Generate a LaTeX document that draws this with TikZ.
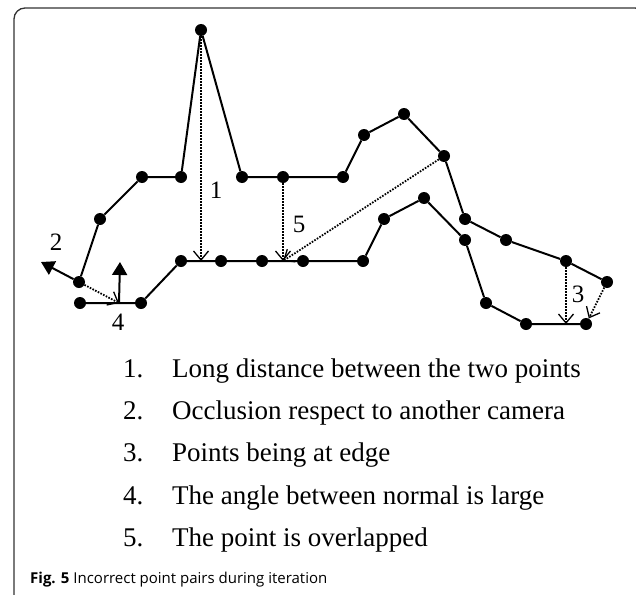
\documentclass[tikz,border=0pt]{standalone}
\usepackage{fontspec}
\setmainfont{Liberation Serif}
\newfontfamily\capfont{Open Sans}
\usetikzlibrary{arrows.meta}

\tikzset{
  pt/.style={circle, fill=black, inner sep=0pt, minimum size=12pt},
  contour/.style={line width=2pt},
  pairline/.style={line width=1.8pt, dash pattern=on 1.6pt off 1.4pt, -{Straight Barb[length=9pt, width=15pt, line width=1.3pt]}},
  normalarrow/.style={line width=2pt, -{Triangle[length=13pt, width=15pt]}},
  lbl/.style={font=\fontsize{25}{27}\selectfont, inner sep=0pt},
  item/.style={font=\fontsize{27}{29}\selectfont, anchor=base west, inner sep=0pt}
}

\begin{document}
\begin{tikzpicture}[x=1pt, y=-1pt]
    \useasboundingbox (0,0) rectangle (636,594);
    \draw[line width=1.3pt, black!80, rounded corners=11pt] (14,604) -- (14,8) -- (646,8) -- (646,40);

    % upper contour
    \node[pt] (u1) at (79,282) {};
    \node[pt] (u2) at (100,219) {};
    \node[pt] (u3) at (142,177) {};
    \node[pt] (u4) at (181,177) {};
    \node[pt] (u5) at (201,30) {};
    \node[pt] (u6) at (242,177) {};
    \node[pt] (u7) at (283,177) {};
    \node[pt] (u8) at (343,177) {};
    \node[pt] (u9) at (364,135) {};
    \node[pt] (u10) at (404,114) {};
    \node[pt] (u11) at (444,156) {};
    \node[pt] (u12) at (465,219) {};
    \node[pt] (u13) at (506,240) {};
    \node[pt] (u14) at (566,261) {};
    \node[pt] (u15) at (607,282) {};

    % lower contour
    \node[pt] (l1) at (80,303) {};
    \node[pt] (l2) at (141,303) {};
    \node[pt] (l3) at (181,261) {};
    \node[pt] (l4) at (221,261) {};
    \node[pt] (l5) at (262,261) {};
    \node[pt] (l6) at (303,261) {};
    \node[pt] (l7) at (363,261) {};
    \node[pt] (l8) at (384,219) {};
    \node[pt] (l9) at (424,198) {};
    \node[pt] (l10) at (465,240) {};
    \node[pt] (l11) at (486,303) {};
    \node[pt] (l12) at (526,324) {};
    \node[pt] (l13) at (586,324) {};

    \coordinate (t1) at (201,261);
    \coordinate (t5) at (283,261);
    \coordinate (t3) at (566,324);
    \coordinate (t4) at (119,303);
    \coordinate (n2) at (41,262);
    \coordinate (n4) at (120,262);

    \draw[contour] (u1) -- (u2) -- (u3) -- (u4) -- (u5) -- (u6) -- (u7) -- (u8) -- (u9) -- (u10) -- (u11) -- (u12) -- (u13) -- (u14) -- (u15);
    \draw[contour] (l1) -- (l2) -- (l3) -- (l4) -- (l5) -- (l6) -- (l7) -- (l8) -- (l9) -- (l10) -- (l11) -- (l12) -- (l13);

    % incorrect pairs
    \draw[pairline] (u5) -- (t1);
    \draw[pairline] (u7) -- (t5);
    \draw[pairline] (u11) -- (t5);
    \draw[pairline] (u14) -- (t3);
    \draw[pairline] (u15) -- (l13);
    \draw[pairline] (u1) -- (t4);
    \draw[normalarrow] (u1) -- (n2);
    \draw[normalarrow] (t4) -- (n4);

    \node[lbl] (k1) at (216,190) {1};
    \node[lbl] (k5) at (299,224) {5};
    \node[lbl] (k2) at (56,242) {2};
    \node[lbl] (k4) at (118,322) {4};
    \node[lbl] (k3) at (578,294) {3};

    \node[item] (i1) at (123,377) {\makebox[49pt][l]{1.}Long distance between the two points};
    \node[item] (i2) at (123,419) {\makebox[49pt][l]{2.}Occlusion respect to another camera};
    \node[item] (i3) at (123,461) {\makebox[49pt][l]{3.}Points being at edge};
    \node[item] (i4) at (123,504) {\makebox[49pt][l]{4.}The angle between normal is large};
    \node[item] (i5) at (123,546) {\makebox[49pt][l]{5.}The point is overlapped};

    \node[anchor=base west, inner sep=0pt, font=\capfont\fontsize{15}{17}\selectfont] (cap) at (30,583) {\textbf{Fig. 5} Incorrect point pairs during iteration};
  \end{tikzpicture}
\end{document}
